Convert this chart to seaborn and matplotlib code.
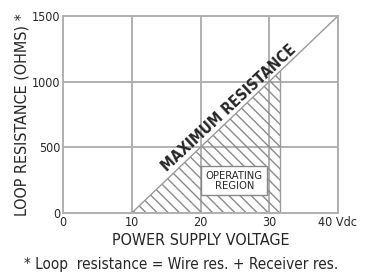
import matplotlib
matplotlib.use("Agg")
import matplotlib.pyplot as plt
import seaborn as sns
import pandas as pd

# data
volts = [10, 40]             # maximum resistance line, Vdc
ohms = [0, 1500]             # loop resistance, ohms
hatch_volts = [10, 31.6]     # operating region extent
hatch_ohms = [0, 1080]
x_ticks = [0, 10, 20, 30, 40]
x_labels = ["0", "10", "20", "30", "40 Vdc"]
y_ticks = [0, 500, 1000, 1500]

sns.set_style("white")
plt.rcParams['font.family'] = ['DejaVu Sans', 'Liberation Sans']
plt.rcParams['font.stretch'] = 'condensed'

fig = plt.figure(figsize=(3.65, 2.74), dpi=100)
ax = fig.add_axes([0.173, 0.223, 0.753, 0.719])

df = pd.DataFrame({"v": volts, "r": ohms})
sns.lineplot(data=df, x="v", y="r", ax=ax, color="#999999", lw=1.0)

# hatched operating area under the line
ax.fill_between(hatch_volts, hatch_ohms, 0, facecolor="none", edgecolor="#8a8a8a",
                hatch="\\\\\\", lw=0)
ax.plot([hatch_volts[1], hatch_volts[1]], [0, hatch_ohms[1]], color="#999999", lw=1.0)

ax.set_xlim(0, 40)
ax.set_ylim(0, 1500)
ax.set_xticks(x_ticks)
ax.set_xticklabels(x_labels)
ax.set_yticks(y_ticks)
ax.grid(True, color="#b0b0b0", lw=1.4)
for s in ax.spines.values():
    s.set_color("#b0b0b0")
    s.set_linewidth(1.4)
ax.tick_params(length=0, labelsize=9, pad=2)
ax.set_xlabel("POWER SUPPLY VOLTAGE", fontsize=11.5, labelpad=3)
ax.set_ylabel("LOOP RESISTANCE (OHMS) *", fontsize=11.5, labelpad=2)

ax.text(24.2, 800, "MAXIMUM RESISTANCE", rotation=43, ha="center", va="center",
        fontsize=11, fontweight="bold")
ax.text(24.9, 245, "OPERATING\nREGION", ha="center", va="center", fontsize=8,
        linespacing=0.95,
        bbox=dict(boxstyle="square,pad=0.4", fc="white", ec="#888888", lw=1.0))

fig.text(0.065, 0.02, "* Loop  resistance = Wire res. + Receiver res.", fontsize=11)

fig.savefig("out.png", dpi=100)
